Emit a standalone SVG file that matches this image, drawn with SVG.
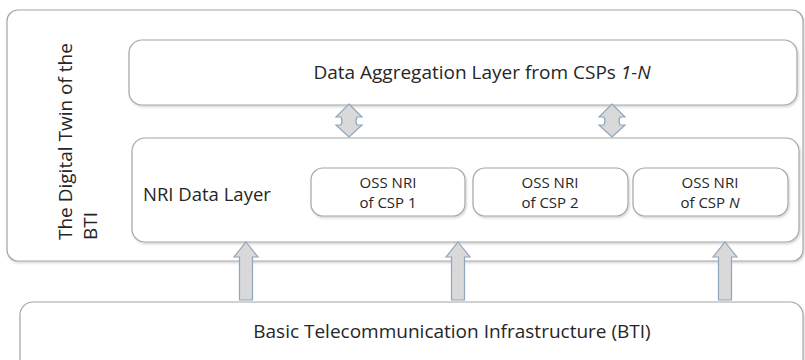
<svg xmlns="http://www.w3.org/2000/svg" width="805" height="360" viewBox="0 0 805 360">
<defs>
<filter id="sh" x="-5%" y="-5%" width="110%" height="120%">
<feDropShadow dx="1" dy="1.5" stdDeviation="1" flood-color="#000" flood-opacity="0.18"/>
</filter>
</defs>
<style>
.box{fill:#fff;stroke:#a6a6a6;stroke-width:1.2;filter:url(#sh)}
.t{font-family:"Open Sans","Liberation Sans",sans-serif;fill:#262626}
.arr{fill:#d9d9d9;stroke:#8ea6be;stroke-width:1.2}
</style>
<rect width="805" height="360" fill="#fff"/>
<g id="digital-twin">
<rect class="box" x="7" y="10" width="796" height="251" rx="11"/>
<text class="t" font-size="19" transform="translate(72,240) rotate(-90)">The Digital Twin of the</text>
<text class="t" font-size="19" transform="translate(97,240) rotate(-90)">BTI</text>
</g>
<g id="aggregation">
<rect class="box" x="129" y="40" width="668" height="65" rx="13"/>
<text class="t" font-size="19" x="482" y="79" text-anchor="middle">Data Aggregation Layer from CSPs <tspan font-style="italic">1-N</tspan></text>
</g>
<g id="nri">
<rect class="box" x="132" y="138" width="667" height="104" rx="13"/>
<text class="t" font-size="18.5" x="143" y="201">NRI Data Layer</text>
</g>
<g id="oss1">
<rect class="box" x="311" y="168" width="154" height="48" rx="12"/>
<text class="t" font-size="15" x="388" y="188" text-anchor="middle">OSS NRI</text>
<text class="t" font-size="15" x="388" y="208" text-anchor="middle">of CSP 1</text>
</g>
<g id="oss2">
<rect class="box" x="473" y="168" width="155" height="48" rx="12"/>
<text class="t" font-size="15" x="550" y="188" text-anchor="middle">OSS NRI</text>
<text class="t" font-size="15" x="550" y="208" text-anchor="middle">of CSP 2</text>
</g>
<g id="ossN">
<rect class="box" x="633" y="168" width="155" height="48" rx="12"/>
<text class="t" font-size="15" x="710" y="188" text-anchor="middle">OSS NRI</text>
<text class="t" font-size="15" x="710" y="208" text-anchor="middle">of CSP <tspan font-style="italic">N</tspan></text>
</g>
<g id="bti">
<rect class="box" x="20" y="302" width="783" height="70" rx="13"/>
<text class="t" font-size="19" x="452" y="338" text-anchor="middle">Basic Telecommunication Infrastructure (BTI)</text>
</g>
<g id="connectors">
<path class="arr" d="M349,104 L362,117 L357,117 Q355,121 357,125 L362,125 L349,137 L336,125 L341,125 Q343,121 341,117 L336,117 Z"/>
<path class="arr" d="M612,104 L625,117 L620,117 Q618,121 620,125 L625,125 L612,137 L599,125 L604,125 Q606,121 604,117 L599,117 Z"/>
<path class="arr" d="M246,242 L258,257 L252.5,257 L252.5,300 L239.5,300 L239.5,257 L234,257 Z"/>
<path class="arr" d="M458,242 L470,257 L464.5,257 L464.5,300 L451.5,300 L451.5,257 L446,257 Z"/>
<path class="arr" d="M725,242 L737,257 L731.5,257 L731.5,300 L718.5,300 L718.5,257 L713,257 Z"/>
</g>
</svg>
